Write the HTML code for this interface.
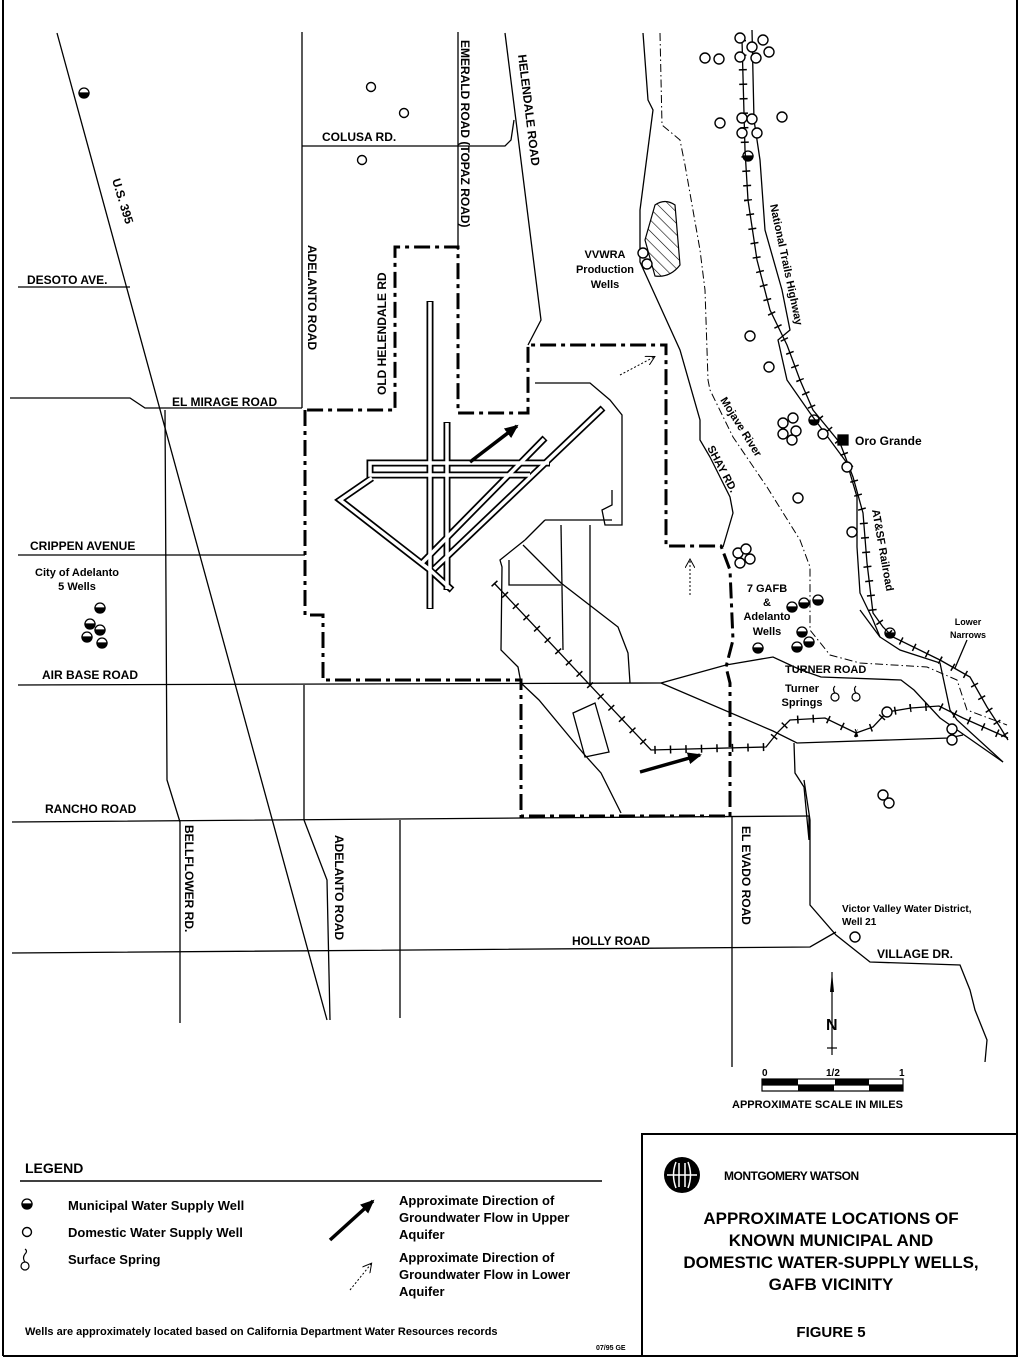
<!DOCTYPE html>
<html><head><meta charset="utf-8"><style>
html,body{margin:0;padding:0;background:#fff;}
svg{display:block;}
text{font-family:"Liberation Sans Narrow","Liberation Sans",sans-serif;font-weight:bold;fill:#000;}
</style></head><body>
<svg width="1024" height="1361" viewBox="0 0 1024 1361" xmlns="http://www.w3.org/2000/svg">
<defs>
<pattern id="hatch" width="8" height="8" patternUnits="userSpaceOnUse" patternTransform="rotate(-45)">
<line x1="0" y1="0" x2="0" y2="8" stroke="#000" stroke-width="1.2"/></pattern>
<marker id="ah" markerUnits="userSpaceOnUse" markerWidth="14" markerHeight="12" refX="12" refY="6" orient="auto"><path d="M0,0 L14,6 L0,12 z" fill="#000"/></marker>
<marker id="ahd" markerUnits="userSpaceOnUse" markerWidth="10" markerHeight="10" refX="8" refY="5" orient="auto"><path d="M0,0 L9,5 L0,10" fill="none" stroke="#000" stroke-width="1"/></marker>
</defs>
<rect width="1024" height="1361" fill="#fff"/>
<g stroke="#000" stroke-width="2" fill="none">
<line x1="3" y1="0" x2="3" y2="1356"/>
<line x1="1017" y1="0" x2="1017" y2="1356"/>
<line x1="3" y1="1356" x2="1017" y2="1356"/>
<rect x="642" y="1134" width="375" height="222"/>
</g>
<g stroke="#000" stroke-width="1.3" fill="none">
<line x1="57" y1="33" x2="327" y2="1020"/>
<line x1="302" y1="32" x2="302" y2="408"/>
<line x1="304" y1="685" x2="304" y2="820"/>
<polyline points="304,820 327,880 330,1020"/>
<line x1="400" y1="820" x2="400" y2="1018"/>
<polyline points="165,410 167,780 180,822 180,1023"/>
<line x1="458" y1="32" x2="458" y2="250"/>
<polyline points="505,33 541,320 528,345"/>
<polyline points="302,146 505,146 511,140 514,120"/>
<line x1="18" y1="287" x2="130" y2="287"/>
<polyline points="10,398 130,398 145,408 302,408"/>
<line x1="18" y1="555" x2="305" y2="555"/>
<line x1="18" y1="685" x2="661" y2="683"/>
<polyline points="12,822 521,818 810,816"/>
<polyline points="12,953 810,947 836,932"/>
<polyline points="804,780 810,820 810,905 836,935 870,962 960,965 970,990 975,1010 987,1040 985,1062"/>
<line x1="732" y1="816" x2="732" y2="1067"/>
<polyline points="661,683 726,665 773,657 801,670 821,677 901,680 914,690 940,718 1003,762"/>
<polyline points="661,683 773,731 797,743 949,738 963,735"/>
<polyline points="794,743 795,773 804,787 809,840 809,816"/>
<polyline points="643,33 648,100 653,110 640,210 640,262 680,350 700,420 700,440 710,457 730,497 733,513 723,547"/>
<polyline points="752,30 754,120 760,160 765,230 782,290 790,330 778,340 787,380 810,413 847,463 857,497 857,547 860,593 873,620 880,637 900,650 940,663 950,710 957,720 1003,762"/>
<line x1="860" y1="610" x2="880" y2="637"/>
<polyline points="535,383 590,383 610,400 622,415 622,525 605,525 602,510 612,505 612,490"/>
<polyline points="525,540 500,560 502,567 501,650 518,667 521,683 539,700 583,753 601,773 621,813"/>
<polyline points="545,520 525,540"/>
<polyline points="509,560 509,585 561,585"/>
<polyline points="523,545 561,583 618,627 628,653 630,683"/>
<line x1="561" y1="525" x2="563" y2="650"/>
<line x1="590" y1="525" x2="590" y2="683"/>
<line x1="545" y1="520" x2="612" y2="520"/>
<polygon points="573,713 595,703 609,752 585,757"/>
<line x1="967" y1="640" x2="955" y2="668"/>
</g>
<g fill="none" stroke="#000">
<polyline stroke-width="1.3" points="742,40 745,150 748,200 757,260 770,310 787,345 800,380 813,410 840,443 853,477 863,513 867,563 873,613 883,627 893,637 940,660 970,677 987,707 1000,727 1008,740"/>
<polyline stroke-width="8" stroke-dasharray="1.5 13" points="742,40 745,150 748,200 757,260 770,310 787,345 800,380 813,410 840,443 853,477 863,513 867,563 873,613 883,627 893,637 940,660 970,677 987,707 1000,727 1008,740"/>
<polyline stroke-width="1.3" points="494,583 651,750 766,747 778,732 790,720 825,718 856,733 873,727 887,712 911,708 939,706 963,718 1008,738"/>
<polyline stroke-width="8" stroke-dasharray="1.5 14" points="494,583 651,750 766,747 778,732 790,720 825,718 856,733 873,727 887,712 911,708 939,706 963,718 1008,738"/>
</g>
<polyline fill="none" stroke="#000" stroke-width="1" stroke-dasharray="8 3 1.5 3" points="660,33 662,125 680,140 685,165 700,250 705,290 708,380 710,390 733,437 767,487 800,540 810,567 810,630 830,655 860,663 927,667 957,680 967,710 1007,725"/>
<path d="M655,205 Q665,198 675,205 L680,265 Q670,278 655,276 L645,240 Z" fill="url(#hatch)" stroke="#000" stroke-width="1.2"/>
<polyline fill="none" stroke="#000" stroke-width="3" stroke-dasharray="16 5 4 5" points="305,410 305,615 323,615 323,680 521,680 521,816 730,816 730,683 726,667 733,640 730,570 721,546 666,546 666,345 528,345 528,413 458,413 458,247 395,247 395,410 305,410"/>
<g fill="none" stroke="#000" stroke-width="7" stroke-linecap="butt">
<line x1="430" y1="301" x2="430" y2="609"/>
<line x1="447" y1="422" x2="447" y2="590"/>
<polyline points="550,463 370,463 370,475 530,475"/>
<line x1="603" y1="408" x2="433" y2="570"/>
<line x1="545" y1="438" x2="420" y2="565"/>
<polyline points="372,478 340,500 430,570 452,590"/>
</g>
<g fill="none" stroke="#fff" stroke-width="3.5">
<line x1="430" y1="302" x2="430" y2="608"/>
<line x1="447" y1="423" x2="447" y2="589"/>
<polyline points="549,463 370,463 370,475 530,475"/>
<line x1="602" y1="409" x2="434" y2="569"/>
<line x1="544" y1="439" x2="421" y2="564"/>
<polyline points="372,478 340,500 430,570 451,589"/>
</g>
<g stroke="#000" fill="#000">
<line x1="470" y1="462" x2="517" y2="426" stroke-width="3.5" marker-end="url(#ah)"/>
<line x1="640" y1="772" x2="700" y2="755" stroke-width="3.5" marker-end="url(#ah)"/>
<line x1="620" y1="375" x2="654" y2="357" stroke-width="1" stroke-dasharray="2 2" marker-end="url(#ahd)"/>
<line x1="690" y1="595" x2="690" y2="560" stroke-width="1" stroke-dasharray="2 2" marker-end="url(#ahd)"/>
<line x1="330" y1="1240" x2="373" y2="1201" stroke-width="3.5" marker-end="url(#ah)"/>
<line x1="350" y1="1290" x2="371" y2="1264" stroke-width="1" stroke-dasharray="2 2" marker-end="url(#ahd)"/>
</g>
<g fill="#fff" stroke="#000" stroke-width="1.4">
<circle cx="371" cy="87" r="4.5"/><circle cx="404" cy="113" r="4.5"/><circle cx="362" cy="160" r="4.5"/>
<circle cx="740" cy="38" r="5"/><circle cx="763" cy="40" r="5"/><circle cx="752" cy="47" r="5"/><circle cx="769" cy="52" r="5"/>
<circle cx="705" cy="58" r="5"/><circle cx="719" cy="59" r="5"/><circle cx="740" cy="57" r="5"/><circle cx="756" cy="58" r="5"/>
<circle cx="720" cy="123" r="5"/><circle cx="742" cy="118" r="5"/><circle cx="752" cy="119" r="5"/><circle cx="782" cy="117" r="5"/>
<circle cx="742" cy="133" r="5"/><circle cx="757" cy="133" r="5"/>
<circle cx="750" cy="336" r="5"/><circle cx="769" cy="367" r="5"/>
<circle cx="783" cy="423" r="5"/><circle cx="793" cy="418" r="5"/><circle cx="796" cy="431" r="5"/><circle cx="783" cy="434" r="5"/><circle cx="792" cy="440" r="5"/>
<circle cx="823" cy="434" r="5"/><circle cx="847" cy="467" r="5"/><circle cx="798" cy="498" r="5"/><circle cx="852" cy="532" r="5"/>
<circle cx="643" cy="253" r="5"/><circle cx="647" cy="264" r="5"/>
<circle cx="738" cy="553" r="5"/><circle cx="746" cy="549" r="5"/><circle cx="750" cy="559" r="5"/><circle cx="740" cy="563" r="5"/>
<circle cx="887" cy="712" r="5"/><circle cx="952" cy="729" r="5"/><circle cx="952" cy="740" r="5"/>
<circle cx="883" cy="795" r="5"/><circle cx="889" cy="803" r="5"/>
<circle cx="855" cy="937" r="5"/>
<circle cx="27" cy="1232" r="4.5"/>
</g>
<g fill="#000" stroke="#000" stroke-width="1.3">
<path d="M79,93 a5,5 0 0 0 10,0 z"/><circle cx="84" cy="93" r="5" fill="none"/>
<path d="M743,156 a5,5 0 0 0 10,0 z"/><circle cx="748" cy="156" r="5" fill="none"/>
<path d="M809,420 a5,5 0 0 0 10,0 z"/><circle cx="814" cy="420" r="5" fill="none"/>
<path d="M885,633 a5,5 0 0 0 10,0 z"/><circle cx="890" cy="633" r="5" fill="none"/>
<path d="M787,607 a5,5 0 0 0 10,0 z"/><circle cx="792" cy="607" r="5" fill="none"/>
<path d="M799,603 a5,5 0 0 0 10,0 z"/><circle cx="804" cy="603" r="5" fill="none"/>
<path d="M813,600 a5,5 0 0 0 10,0 z"/><circle cx="818" cy="600" r="5" fill="none"/>
<path d="M797,632 a5,5 0 0 0 10,0 z"/><circle cx="802" cy="632" r="5" fill="none"/>
<path d="M804,642 a5,5 0 0 0 10,0 z"/><circle cx="809" cy="642" r="5" fill="none"/>
<path d="M792,647 a5,5 0 0 0 10,0 z"/><circle cx="797" cy="647" r="5" fill="none"/>
<path d="M753,648 a5,5 0 0 0 10,0 z"/><circle cx="758" cy="648" r="5" fill="none"/>
<path d="M95,608 a5,5 0 0 0 10,0 z"/><circle cx="100" cy="608" r="5" fill="none"/>
<path d="M85,624 a5,5 0 0 0 10,0 z"/><circle cx="90" cy="624" r="5" fill="none"/>
<path d="M95,630 a5,5 0 0 0 10,0 z"/><circle cx="100" cy="630" r="5" fill="none"/>
<path d="M82,637 a5,5 0 0 0 10,0 z"/><circle cx="87" cy="637" r="5" fill="none"/>
<path d="M97,643 a5,5 0 0 0 10,0 z"/><circle cx="102" cy="643" r="5" fill="none"/>
<path d="M22,1204 a5,5 0 0 0 10,0 z"/><circle cx="27" cy="1204" r="5" fill="none"/>
<rect x="838" y="435" width="10" height="10"/>
</g>
<g fill="#fff" stroke="#000" stroke-width="1.2">
<circle cx="835" cy="697" r="4"/><path d="M835,693 q-3,-4 0,-7" fill="none"/>
<circle cx="856" cy="697" r="4"/><path d="M856,693 q-3,-4 0,-7" fill="none"/>
<circle cx="25" cy="1266" r="4"/><path d="M25,1262 q-3,-4 0,-8 q3,-3 0,-5" fill="none"/>
</g>
<g stroke="#000" fill="none" stroke-width="1.2">
<rect x="762" y="1079" width="141" height="12"/>
<line x1="762" y1="1085" x2="903" y2="1085"/>
<line x1="832" y1="972" x2="832" y2="1055"/>
<line x1="827" y1="1048" x2="837" y2="1048"/>
</g>
<g fill="#000"><rect x="762" y="1079" width="36" height="6"/><rect x="798" y="1085" width="36" height="6"/><rect x="835" y="1079" width="34" height="6"/><rect x="869" y="1085" width="34" height="6"/>
<path d="M832,972 l2,20 l-4,0 z"/></g>
<g font-size="12">
<text x="322" y="141">COLUSA RD.</text>
<text x="27" y="284">DESOTO AVE.</text>
<text x="172" y="406">EL MIRAGE ROAD</text>
<text x="30" y="550">CRIPPEN AVENUE</text>
<text x="42" y="679">AIR  BASE  ROAD</text>
<text x="45" y="813">RANCHO ROAD</text>
<text x="572" y="945">HOLLY ROAD</text>
<text x="877" y="958">VILLAGE DR.</text>
<text x="855" y="445">Oro Grande</text>
<text x="605" y="258" text-anchor="middle" font-size="11">VVWRA</text>
<text x="605" y="273" text-anchor="middle" font-size="11">Production</text>
<text x="605" y="288" text-anchor="middle" font-size="11">Wells</text>
<text x="767" y="592" text-anchor="middle" font-size="11">7 GAFB</text>
<text x="767" y="606" text-anchor="middle" font-size="11">&amp;</text>
<text x="767" y="620" text-anchor="middle" font-size="11">Adelanto</text>
<text x="767" y="635" text-anchor="middle" font-size="11">Wells</text>
<text x="785" y="673" font-size="11">TURNER ROAD</text>
<text x="802" y="692" text-anchor="middle" font-size="11">Turner</text>
<text x="802" y="706" text-anchor="middle" font-size="11">Springs</text>
<text x="968" y="625" text-anchor="middle" font-size="9">Lower</text>
<text x="968" y="638" text-anchor="middle" font-size="9">Narrows</text>
<text x="77" y="576" text-anchor="middle" font-size="11">City of Adelanto</text>
<text x="77" y="590" text-anchor="middle" font-size="11">5 Wells</text>
<text x="842" y="912" font-size="10">Victor Valley Water District,</text>
<text x="842" y="925" font-size="10">Well 21</text>
<text x="762" y="1076" font-size="10">0</text><text x="826" y="1076" font-size="10">1/2</text><text x="899" y="1076" font-size="10">1</text>
<text x="732" y="1108" font-size="11">APPROXIMATE SCALE IN MILES</text>
<text x="826" y="1030" font-size="16">N</text>
<text transform="translate(308,245) rotate(90)">ADELANTO ROAD</text>
<text transform="translate(386,395) rotate(-90)">OLD HELENDALE RD</text>
<text transform="translate(461,40) rotate(90)">EMERALD ROAD  (TOPAZ ROAD)</text>
<text transform="translate(518,55) rotate(83)">HELENDALE ROAD</text>
<text transform="translate(112,180) rotate(73)">U.S. 395</text>
<text transform="translate(185,825) rotate(90)">BELLFLOWER RD.</text>
<text transform="translate(335,835) rotate(90)">ADELANTO ROAD</text>
<text transform="translate(742,826) rotate(90)">EL EVADO ROAD</text>
<text transform="translate(770,205) rotate(78)" font-size="11">National Trails Highway</text>
<text transform="translate(720,400) rotate(58)" font-size="11">Mojave River</text>
<text transform="translate(707,448) rotate(62)" font-size="11">SHAY RD.</text>
<text transform="translate(872,510) rotate(80)" font-size="11">AT&amp;SF Railroad</text>
</g>
<line x1="20" y1="1181" x2="602" y2="1181" stroke="#000" stroke-width="1.5"/>
<g font-size="13">
<text x="25" y="1173" font-size="14">LEGEND</text>
<text x="68" y="1210">Municipal Water Supply Well</text>
<text x="68" y="1237">Domestic Water Supply Well</text>
<text x="68" y="1264">Surface Spring</text>
<text x="399" y="1205">Approximate Direction of</text>
<text x="399" y="1222">Groundwater Flow in Upper</text>
<text x="399" y="1239">Aquifer</text>
<text x="399" y="1262">Approximate Direction of</text>
<text x="399" y="1279">Groundwater Flow in Lower</text>
<text x="399" y="1296">Aquifer</text>
<text x="25" y="1335" font-size="11">Wells are approximately located based on California Department Water Resources records</text>
<text x="596" y="1350" font-size="7">07/95 GE</text>
</g>
<circle cx="682" cy="1175" r="18" fill="#000"/>
<g stroke="#fff" stroke-width="1.5" fill="none"><path d="M676,1162 q-5,13 0,26 M688,1162 q5,13 0,26 M667,1175 h30 M679,1163 v24 M685,1163 v24"/></g>
<text x="724" y="1180" font-size="12" font-weight="900" style="letter-spacing:-0.5px">MONTGOMERY WATSON</text>
<g font-size="17" text-anchor="middle">
<text x="831" y="1224">APPROXIMATE LOCATIONS OF</text>
<text x="831" y="1246">KNOWN MUNICIPAL AND</text>
<text x="831" y="1268">DOMESTIC WATER-SUPPLY WELLS,</text>
<text x="831" y="1290">GAFB VICINITY</text>
<text x="831" y="1337" font-size="15">FIGURE 5</text>
</g>
</svg>
</body></html>
